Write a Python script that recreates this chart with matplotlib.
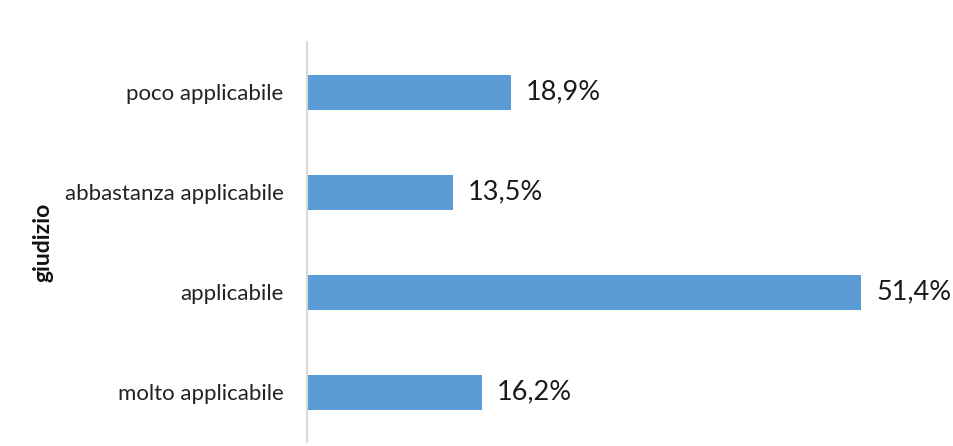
import matplotlib
matplotlib.use("Agg")
import matplotlib.pyplot as plt

categories = ["molto applicabile", "applicabile", "abbastanza applicabile", "poco applicabile"]
values = [16.2, 51.4, 13.5, 18.9]
value_labels = ["16,2%", "51,4%", "13,5%", "18,9%"]
axis_title = "giudizio"

plt.rcParams['font.family'] = ['Lato', 'DejaVu Sans']

fig = plt.figure(figsize=(9.54, 4.46), dpi=100)
W, H = 954, 446
ax = fig.add_axes([307 / W, (H - 442) / H, (954 - 307) / W, 400 / H])

ypos = list(range(len(categories)))
ax.barh(ypos, values, height=0.35, color="#5B9BD5", zorder=2)
for y, v, lab in zip(ypos, values, value_labels):
    ax.text(v + 1.4, y, lab, va="center", ha="left", fontsize=19.5, color="#1a1a1a")

ax.set_xlim(0, 60)
ax.set_ylim(-0.5, 3.5)
ax.set_yticks(ypos)
ax.set_yticklabels(categories, fontsize=16, color="#222222")
ax.tick_params(axis="y", length=0, pad=17)
ax.set_xticks([])
for s in ["top", "right", "bottom"]:
    ax.spines[s].set_visible(False)
ax.spines["left"].set_color("#D9D9D9")
ax.spines["left"].set_linewidth(1.5)

fig.text(43 / W, 1 - 242 / H, axis_title, rotation=90, fontsize=16.5, fontweight="bold",
         va="center", ha="center", color="#111111")

fig.savefig("out.png", dpi=100)
